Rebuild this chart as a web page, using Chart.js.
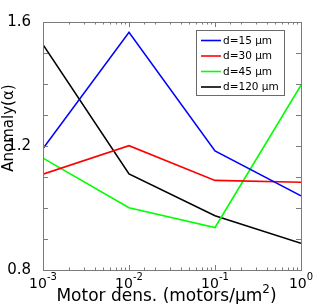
<!DOCTYPE html>
<html><head><meta charset="utf-8">
<script src="https://cdn.jsdelivr.net/npm/chart.js@4/dist/chart.umd.min.js"></script>
<style>html,body{margin:0;padding:0;background:#fff}canvas{display:block}</style>
</head><body>
<canvas id="c" width="332" height="304"></canvas>
<script>
// ---- data ----
const densities = [0.001, 0.01, 0.1, 1];
const seriesLabels = ['d=15 \u00b5m', 'd=30 \u00b5m', 'd=45 \u00b5m', 'd=120 \u00b5m'];
const seriesColors = ['#0000ff', '#ff0000', '#00ff00', '#000000'];
const d15  = [1.192, 1.567, 1.184, 1.039];
const d30  = [1.109, 1.201, 1.089, 1.083];
const d45  = [1.161, 1.001, 0.937, 1.396];
const d120 = [1.527, 1.110, 0.975, 0.886];
const xTickValues = [0.001, 0.01, 0.1, 1];
const xTickExps = ['-3', '-2', '-1', '0'];
const yTickLabels = [0.8, 1.2, 1.6];
const xTitle = 'Motor dens. (motors/\u00b5m';
const xTitleSup = '2';
const yTitle = 'Anomaly(\u03b1)';

const series = [d15, d30, d45, d120];
const FONT = '"DejaVu Sans", sans-serif';

const deco = {
  id: 'deco',
  afterDatasetsDraw(chart) {
    const {ctx, chartArea: a, scales: {x, y}} = chart;
    ctx.save();
    ctx.strokeStyle = '#7a7a7a';
    ctx.lineWidth = 1;
    ctx.beginPath();
    x.ticks.forEach(t => {
      const px = Math.round(x.getPixelForValue(t.value)) + 0.5;
      const lg = Math.log10(t.value);
      const major = Math.abs(lg - Math.round(lg)) < 1e-6;
      const L = major ? 5 : 2.5;
      ctx.moveTo(px, a.bottom); ctx.lineTo(px, a.bottom - L);
      ctx.moveTo(px, a.top); ctx.lineTo(px, a.top + L);
    });
    y.ticks.forEach(t => {
      const py = Math.round(y.getPixelForValue(t.value)) + 0.5;
      ctx.moveTo(a.left, py); ctx.lineTo(a.left + 5, py);
      ctx.moveTo(a.right, py); ctx.lineTo(a.right - 5, py);
    });
    ctx.stroke();
    ctx.strokeRect(Math.round(a.left) + 0.5, Math.round(a.top) + 0.5,
                   Math.round(a.right - a.left), Math.round(a.bottom - a.top));

    // x tick labels 10^n
    ctx.fillStyle = '#000';
    ctx.textBaseline = 'alphabetic';
    ctx.textAlign = 'left';
    xTickValues.forEach((v, i) => {
      const px = x.getPixelForValue(v);
      ctx.font = '14px ' + FONT;
      const wb = ctx.measureText('10').width;
      ctx.font = '10px ' + FONT;
      const we = ctx.measureText(xTickExps[i]).width;
      const s = px - (wb + we) / 2;
      ctx.font = '14px ' + FONT;
      ctx.fillText('10', s, 288);
      ctx.font = '10px ' + FONT;
      ctx.fillText(xTickExps[i], s + wb, 280);
    });

    // x title
    ctx.font = '17px ' + FONT;
    const w1 = ctx.measureText(xTitle).width;
    const w3 = ctx.measureText(')').width;
    ctx.font = '12px ' + FONT;
    const w2 = ctx.measureText(xTitleSup).width;
    const sx = 166.5 - (w1 + w2 + w3) / 2;
    ctx.font = '17px ' + FONT;
    ctx.fillText(xTitle, sx, 301);
    ctx.fillText(')', sx + w1 + w2, 301);
    ctx.font = '12px ' + FONT;
    ctx.fillText(xTitleSup, sx + w1, 293);

    // y title
    ctx.save();
    ctx.translate(13, 128);
    ctx.rotate(-Math.PI / 2);
    ctx.font = '15px ' + FONT;
    ctx.textAlign = 'center';
    ctx.fillText(yTitle, 0, 0);
    ctx.restore();

    // legend
    ctx.fillStyle = '#fff';
    ctx.fillRect(196.5, 30.5, 88, 65);
    ctx.strokeStyle = '#6a6a6a';
    ctx.strokeRect(196.5, 30.5, 88, 65);
    ctx.font = '10.5px ' + FONT;
    ctx.textBaseline = 'middle';
    chart.data.datasets.forEach((ds, i) => {
      const ry = 40.5 + i * 15.5;
      ctx.strokeStyle = ds.borderColor;
      ctx.lineWidth = 1.6;
      ctx.beginPath(); ctx.moveTo(201, ry); ctx.lineTo(221, ry); ctx.stroke();
      ctx.fillStyle = '#000';
      ctx.fillText(ds.label, 223, ry + 0.5);
    });
    ctx.restore();
  }
};

new Chart(document.getElementById('c'), {
  type: 'line',
  data: {
    datasets: series.map((s, i) => ({
      label: seriesLabels[i],
      data: densities.map((d, j) => ({x: d, y: s[j]})),
      borderColor: seriesColors[i],
      backgroundColor: seriesColors[i],
      borderWidth: 1.6,
      pointRadius: 0,
      tension: 0,
      fill: false
    }))
  },
  options: {
    responsive: false,
    devicePixelRatio: 1,
    animation: false,
    layout: {padding: {top: 22, right: 31, left: 0, bottom: 0}},
    plugins: {legend: {display: false}, tooltip: {enabled: false}},
    scales: {
      x: {
        type: 'logarithmic', min: 0.001, max: 1,
        ticks: {display: false, autoSkip: false},
        grid: {display: false}, border: {display: false},
        afterFit(s) { s.height = 34; }
      },
      y: {
        min: 0.8, max: 1.6,
        ticks: {
          stepSize: 0.1, autoSkip: false, padding: 4, color: '#000',
          font: {family: 'DejaVu Sans', size: 15},
          callback: v => yTickLabels.some(l => Math.abs(l - v) < 1e-6) ? Number(v).toFixed(1) : ''
        },
        grid: {display: false}, border: {display: false},
        afterFit(s) { s.width = 43; }
      }
    }
  },
  plugins: [deco]
});
</script>
</body></html>
